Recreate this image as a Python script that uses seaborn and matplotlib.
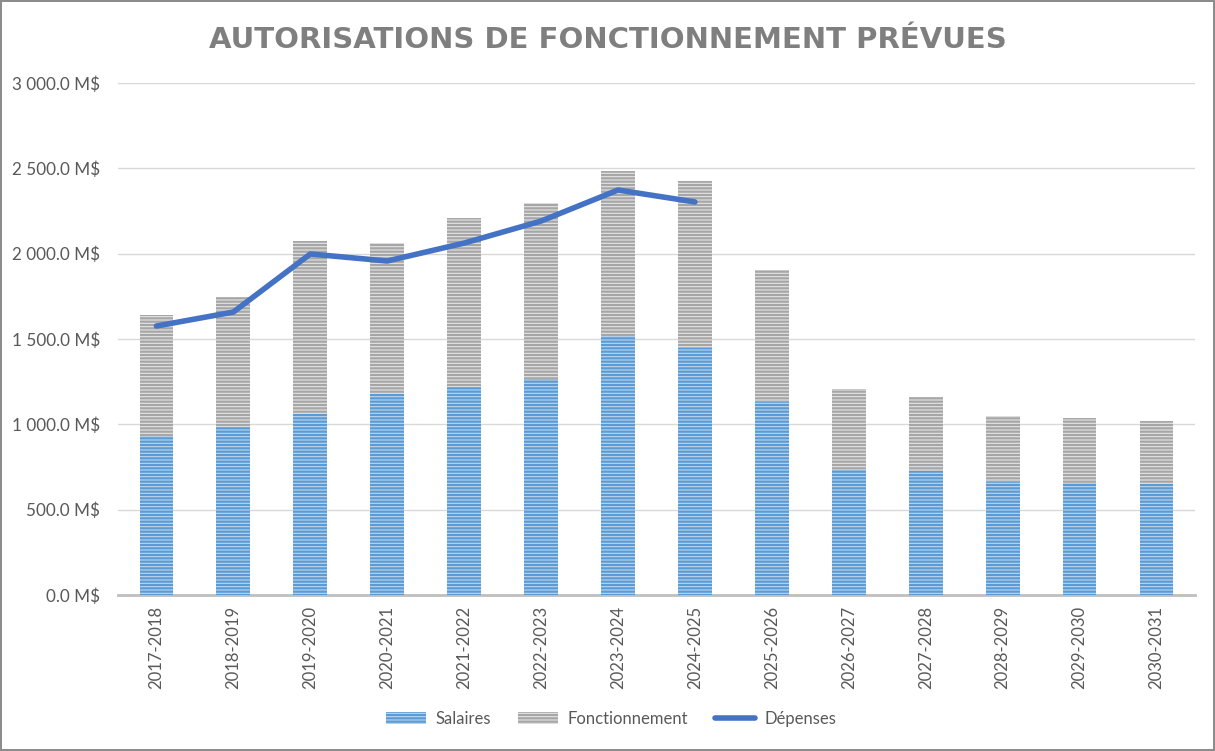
import matplotlib
matplotlib.use("Agg")
import matplotlib.pyplot as plt
import seaborn as sns
import numpy as np
import pandas as pd
from matplotlib.ticker import FuncFormatter, MultipleLocator
from matplotlib.patches import Patch
from matplotlib.lines import Line2D

annees = ["2017-2018", "2018-2019", "2019-2020", "2020-2021", "2021-2022", "2022-2023",
          "2023-2024", "2024-2025", "2025-2026", "2026-2027", "2027-2028", "2028-2029",
          "2029-2030", "2030-2031"]
salaires = [932, 984, 1060, 1178, 1219, 1266, 1517, 1447, 1131, 732, 726, 662, 656, 650]
fonctionnement = [708, 762, 1014, 884, 990, 1031, 967, 979, 773, 475, 434, 387, 381, 369]
depenses = [1576, 1658, 1998, 1957, 2062, 2191, 2373, 2303]

sns.set_theme(style="white")
plt.rcParams['font.family'] = ['Lato', 'DejaVu Sans']
plt.rcParams['hatch.linewidth'] = 1.6

df = pd.DataFrame({"annee": annees, "salaires": salaires,
                   "total": np.array(salaires) + np.array(fonctionnement)})

fig = plt.figure(figsize=(12.15, 7.51), dpi=100)
fig.patch.set_edgecolor("#8c8c8c")
fig.patch.set_linewidth(1.5)
ax = fig.add_axes([0.0971, 0.2077, 0.8864, 0.6818])

sns.barplot(data=df, x="annee", y="total", color="#e4e4e4", width=0.44, ax=ax,
            saturation=1, edgecolor="#a6a6a6", linewidth=0, hatch="-----", zorder=2)
sns.barplot(data=df, x="annee", y="salaires", color="#bdd7ee", width=0.44, ax=ax,
            saturation=1, edgecolor="#5b9bd5", linewidth=0, hatch="-----", zorder=3)
sns.lineplot(x=list(range(len(depenses))), y=depenses, color="#4472c4", linewidth=4,
             ax=ax, zorder=4, solid_capstyle="round")

ax.set_ylim(0, 3000)
ax.set_xlim(-0.5, len(annees) - 0.5)
ax.yaxis.set_major_locator(MultipleLocator(500))
ax.yaxis.set_major_formatter(FuncFormatter(lambda v, p: f"{v:,.1f}".replace(",", " ") + " M$"))
ax.grid(axis="y", color="#d9d9d9", linewidth=1, zorder=0)
ax.set_axisbelow(True)
for s in ["top", "right", "left"]:
    ax.spines[s].set_visible(False)
ax.spines["bottom"].set_color("#bfbfbf")
ax.spines["bottom"].set_linewidth(2)
ax.set_xlabel("")
ax.set_ylabel("")
ax.tick_params(axis="y", labelsize=12.3, labelcolor="#595959", length=0, pad=13)
ax.tick_params(axis="x", labelsize=12, labelcolor="#595959", length=0, pad=8, rotation=90)

fig.text(0.5, 0.947, "AUTORISATIONS DE FONCTIONNEMENT PRÉVUES", ha="center", va="center",
         fontsize=21, fontweight="bold", color="#7f7f7f", family=["DejaVu Sans"])

handles = [Patch(facecolor="#bdd7ee", edgecolor="#5b9bd5", hatch="-----", linewidth=0),
           Patch(facecolor="#e4e4e4", edgecolor="#a6a6a6", hatch="-----", linewidth=0),
           Line2D([0], [0], color="#4472c4", linewidth=4)]
fig.legend(handles, ["Salaires", "Fonctionnement", "Dépenses"], loc="center",
           bbox_to_anchor=(0.503, 0.043), ncol=3, frameon=False, fontsize=12,
           labelcolor="#595959", handlelength=2.4, columnspacing=1.6, handletextpad=0.6)

fig.savefig("out.png", dpi=100)
